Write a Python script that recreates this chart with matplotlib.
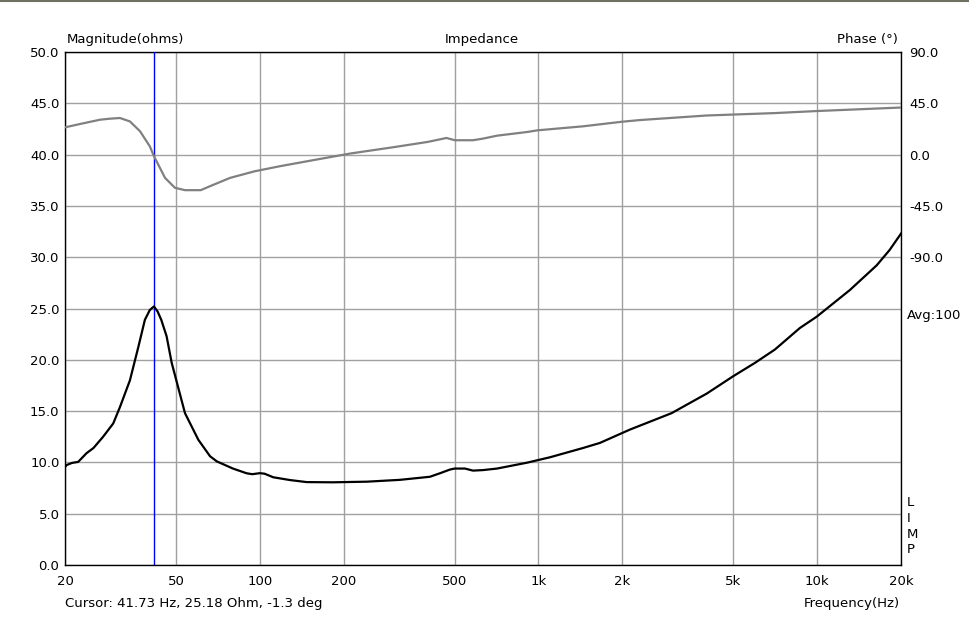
import numpy as np
import matplotlib.pyplot as plt
from matplotlib.ticker import FixedLocator, NullFormatter, NullLocator

# Impedance curve (Hz, ohms)
imp_freq = [20, 20.3, 21.2, 22.3, 23.9, 25.3, 27.4, 29.8, 31.5, 34.2, 36.7, 38.7,
            40.3, 41.7, 43.0, 44.3, 46.3, 48.3, 53.9, 60.2, 66.3, 70.1, 80.1, 89.7,
            94, 100, 104, 111.8, 128.3, 147.3, 183, 242, 318.5, 408, 443, 481, 500,
            545, 582, 632, 710, 909, 1100, 1444, 1662, 2130, 3005, 4013, 5000, 5983,
            7055, 8673, 9964, 13108, 16350, 18200, 20000]
imp_ohm = [9.55, 9.75, 9.95, 10.05, 10.9, 11.4, 12.5, 13.8, 15.4, 18.0, 21.3, 23.9,
           24.85, 25.2, 24.7, 23.9, 22.3, 19.7, 14.8, 12.2, 10.6, 10.1, 9.4, 8.94,
           8.85, 8.95, 8.9, 8.55, 8.28, 8.08, 8.06, 8.12, 8.3, 8.6, 8.94, 9.3, 9.4,
           9.4, 9.2, 9.25, 9.4, 9.97, 10.5, 11.4, 11.9, 13.2, 14.8, 16.7, 18.4,
           19.7, 21.0, 23.1, 24.2, 26.8, 29.2, 30.7, 32.3]

# Phase curve (Hz, degrees)
ph_freq = [20, 22.6, 26.7, 29.0, 31.5, 34.2, 37.2, 40.3, 41.7, 45.7, 49.6, 53.9,
           61.4, 66.3, 78.3, 96, 118, 164.5, 210.6, 300, 400, 468, 501, 582, 632,
           710, 909, 993, 1444, 1990, 2313, 4013, 7020, 9964, 20000]
ph_deg = [23.9, 26.8, 30.6, 31.5, 32.1, 29.1, 20.4, 7.3, -1.3, -20.4, -29.1, -31.2,
          -31.2, -27.7, -20.4, -14.6, -10.2, -3.8, 0.9, 6.4, 11.1, 14.6, 12.6, 12.6,
          14.0, 16.6, 19.8, 21.3, 24.8, 28.8, 30.3, 34.3, 36.4, 38.2, 41.3]

cursor_f = 41.73
x_ticks = [20, 50, 100, 200, 500, 1000, 2000, 5000, 10000, 20000]
x_labels = ["20", "50", "100", "200", "500", "1k", "2k", "5k", "10k", "20k"]
mag_ticks = np.arange(0, 50.1, 5)
ph_ticks = [90, 45, 0, -45, -90]

plt.rcParams['font.family'] = ['DejaVu Sans']
plt.rcParams['font.size'] = 9.5

fig = plt.figure(figsize=(9.7, 6.18), dpi=100)
fig.patch.set_facecolor("white")
ax = fig.add_axes([65/970, 53/618, 836/970, 513/618])

ax.set_xscale("log")
ax.set_xlim(20, 20000)
ax.set_ylim(0, 50)

grid_minor = [m * 10**e for e in range(1, 5) for m in range(1, 10)
              if 20 < m * 10**e < 20000]
ax.xaxis.set_major_locator(FixedLocator(x_ticks))
ax.set_xticklabels(x_labels)
ax.xaxis.set_minor_locator(FixedLocator(grid_minor))
ax.xaxis.set_minor_formatter(NullFormatter())
ax.set_yticks(mag_ticks)
ax.set_yticklabels([f"{v:.1f}" for v in mag_ticks])
ax.grid(True, which="both", axis="x", color="#a0a0a0", lw=1)
ax.grid(True, which="major", axis="y", color="#a0a0a0", lw=1)
ax.tick_params(which="both", length=0, pad=4, colors="black", labelsize=9.5)
ax.tick_params(axis="x", pad=7)
for s in ax.spines.values():
    s.set_color("black")
    s.set_linewidth(1)

ax.axvline(cursor_f, color="#0000ff", lw=1, zorder=3)
ax.plot(imp_freq, imp_ohm, color="black", lw=1.6, zorder=4)

ax2 = ax.twinx()
ax2.set_ylim(-360, 90)
ax2.set_yticks(ph_ticks)
ax2.set_yticklabels([f"{v:.1f}" for v in ph_ticks])
ax2.tick_params(length=0, pad=6, labelsize=9.5)
ax2.xaxis.set_minor_locator(NullLocator())
ax2.plot(ph_freq, ph_deg, color="#808080", lw=1.6, zorder=4)
for s in ax2.spines.values():
    s.set_visible(False)

# Labels around the plot
fig.text(67/970, 1 - 40/618, "Magnitude(ohms)", ha="left", va="center")
fig.text(482/970, 1 - 40/618, "Impedance", ha="center", va="center")
fig.text(898/970, 1 - 40/618, "Phase (°)", ha="right", va="center")
fig.text(907/970, 1 - 316/618, "Avg:100", ha="left", va="center")
for i, ch in enumerate("LIMP"):
    fig.text(907/970, 1 - (503 + i * 15.5)/618, ch, ha="left", va="center")
fig.text(65/970, 1 - 604/618, "Cursor: 41.73 Hz, 25.18 Ohm, -1.3 deg",
         ha="left", va="center")
fig.text(900/970, 1 - 604/618, "Frequency(Hz)", ha="right", va="center")

# thin frame line at the top of the window
fig.add_artist(plt.Line2D([0, 1], [0.999, 0.999], color="#707060", lw=1.5,
                          transform=fig.transFigure))

fig.savefig("out.png", dpi=100)
